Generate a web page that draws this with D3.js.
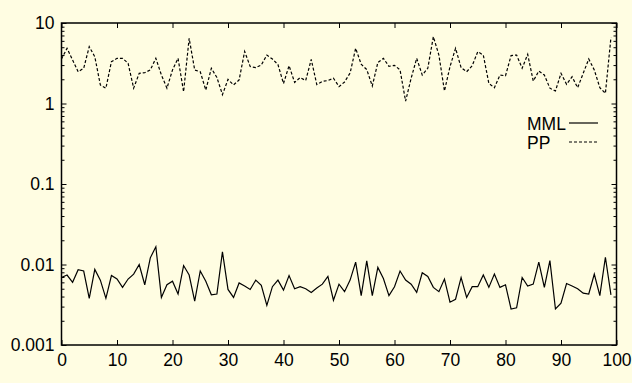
<!DOCTYPE html>
<html>
<head>
<meta charset="utf-8">
<script src="https://cdn.jsdelivr.net/npm/d3@7"></script>
<style>
  html, body { margin: 0; padding: 0; background: #fffde2; }
  svg { display: block; }
  text { font-family: "Liberation Sans", Arial, sans-serif; fill: #000; }
</style>
</head>
<body>
<div id="vis"></div>
<script>
// values, x = 0..99
const mml = [
  0.0069, 0.0074, 0.0060, 0.0086, 0.0083, 0.0038, 0.0087, 0.0064, 0.0038, 0.0073,
  0.0066, 0.0052, 0.0066, 0.0076, 0.0100, 0.0056, 0.0121, 0.0166, 0.0039, 0.0056,
  0.0062, 0.0043, 0.0097, 0.0074, 0.0035, 0.0083, 0.0062, 0.0042, 0.0043, 0.0144,
  0.0049, 0.0039, 0.0059, 0.0054, 0.0049, 0.0064, 0.0055, 0.0031, 0.0053, 0.0064,
  0.0048, 0.0073, 0.0050, 0.0053, 0.0050, 0.0045, 0.0051, 0.0057, 0.0071, 0.0036,
  0.0057, 0.0046, 0.0064, 0.0107, 0.0041, 0.0111, 0.0041, 0.0092, 0.0067, 0.0041,
  0.0053, 0.0083, 0.0064, 0.0057, 0.0045, 0.0079, 0.0071, 0.0052, 0.0046, 0.0066,
  0.0034, 0.0037, 0.0069, 0.0039, 0.0053, 0.0053, 0.0074, 0.0052, 0.0076, 0.0052,
  0.0056, 0.0028, 0.0029, 0.0069, 0.0054, 0.0057, 0.0107, 0.0052, 0.0112, 0.0028,
  0.0033, 0.0058, 0.0054, 0.0050, 0.0044, 0.0043, 0.0076, 0.0041, 0.0123, 0.0042
];
const pp = [
  3.57, 4.85, 3.47, 2.48, 2.74, 5.08, 3.81, 1.70, 1.55, 3.31,
  3.64, 3.64, 3.16, 1.55, 2.37, 2.41, 2.61, 3.64, 2.26, 1.55,
  2.61, 3.64, 1.40, 6.46, 2.61, 2.48, 1.47, 2.74, 2.10, 1.29,
  1.99, 1.70, 1.96, 4.43, 2.88, 2.79, 3.01, 4.00, 3.57, 3.05,
  1.77, 2.95, 1.83, 2.10, 1.93, 3.52, 1.72, 1.88, 1.93, 2.06,
  1.62, 1.85, 2.39, 4.85, 3.07, 2.64, 1.65, 3.23, 3.64, 2.90,
  2.98, 2.61, 1.07, 2.06, 3.64, 2.26, 2.74, 6.76, 4.00, 1.43,
  2.87, 4.85, 2.79, 2.48, 2.95, 4.40, 4.00, 1.78, 1.57, 2.26,
  2.21, 3.93, 4.00, 2.74, 4.08, 1.90, 2.53, 2.26, 1.55, 1.43,
  2.37, 1.73, 2.15, 1.57, 2.37, 3.57, 2.61, 1.57, 1.34, 6.61
];
const xTicks = [0, 10, 20, 30, 40, 50, 60, 70, 80, 90, 100];
const yTicks = [0.001, 0.01, 0.1, 1, 10];
const yTickLabels = ["0.001", "0.01", "0.1", "1", "10"];
const seriesNames = ["MML", "PP"];

const W = 632, H = 383;
const margin = { top: 23, right: 15.5, bottom: 38, left: 61.5 };
const width = W - margin.left - margin.right;
const height = H - margin.top - margin.bottom;

const x = d3.scaleLinear().domain([0, 100]).range([0, width]);
const y = d3.scaleLog().domain([0.001, 10]).range([height, 0]);

const svg = d3.select("#vis").append("svg")
  .attr("width", W).attr("height", H);
svg.append("rect").attr("width", W).attr("height", H).attr("fill", "#fffde2");

const g = svg.append("g")
  .attr("transform", `translate(${margin.left},${margin.top})`);

// minor log ticks 2..9 in each decade
const minor = [];
yTicks.slice(0, -1).forEach(d => {
  for (let k = 2; k <= 9; k++) minor.push(d * k);
});

const fontSize = "17.5px";

function styleAxis(sel) {
  sel.select(".domain").remove();
  sel.selectAll("line").attr("stroke", "#000").attr("stroke-width", 1);
  sel.selectAll("text").style("font-size", fontSize).attr("fill", "#000");
}

// bottom axis, ticks pointing inward
g.append("g")
  .attr("transform", `translate(0,${height})`)
  .call(d3.axisBottom(x).tickValues(xTicks).tickSize(-5).tickPadding(9))
  .call(styleAxis);
// top axis, ticks only
g.append("g")
  .call(d3.axisTop(x).tickValues(xTicks).tickSize(-5).tickFormat(""))
  .call(styleAxis);

// left axis
g.append("g")
  .call(d3.axisLeft(y).tickValues(yTicks).tickSize(-5).tickPadding(7)
    .tickFormat((d, i) => yTickLabels[i]))
  .call(styleAxis);
g.append("g")
  .call(d3.axisLeft(y).tickValues(minor).tickSize(-3).tickFormat(""))
  .call(styleAxis);

// right axis
g.append("g")
  .attr("transform", `translate(${width},0)`)
  .call(d3.axisRight(y).tickValues(yTicks).tickSize(-5).tickFormat(""))
  .call(styleAxis);
g.append("g")
  .attr("transform", `translate(${width},0)`)
  .call(d3.axisRight(y).tickValues(minor).tickSize(-3).tickFormat(""))
  .call(styleAxis);

// frame
g.append("rect")
  .attr("width", width).attr("height", height)
  .attr("fill", "none").attr("stroke", "#000").attr("stroke-width", 1.5);

const line = d3.line()
  .x((d, i) => x(i))
  .y(d => y(d));

g.append("path")
  .datum(mml)
  .attr("d", line)
  .attr("fill", "none").attr("stroke", "#000").attr("stroke-width", 1.2);

g.append("path")
  .datum(pp)
  .attr("d", line)
  .attr("fill", "none").attr("stroke", "#000").attr("stroke-width", 1.2)
  .attr("stroke-dasharray", "3,2");

// legend
const legend = svg.append("g");
const dashes = [null, "3,2"];
seriesNames.forEach((name, i) => {
  const ly = 123 + i * 19;
  legend.append("text")
    .attr("x", 527).attr("y", ly + 6.5)
    .style("font-size", fontSize)
    .text(name);
  legend.append("line")
    .attr("x1", 569).attr("x2", 598)
    .attr("y1", ly).attr("y2", ly)
    .attr("stroke", "#000").attr("stroke-width", 1.2)
    .attr("stroke-dasharray", dashes[i]);
});
</script>
</body>
</html>
